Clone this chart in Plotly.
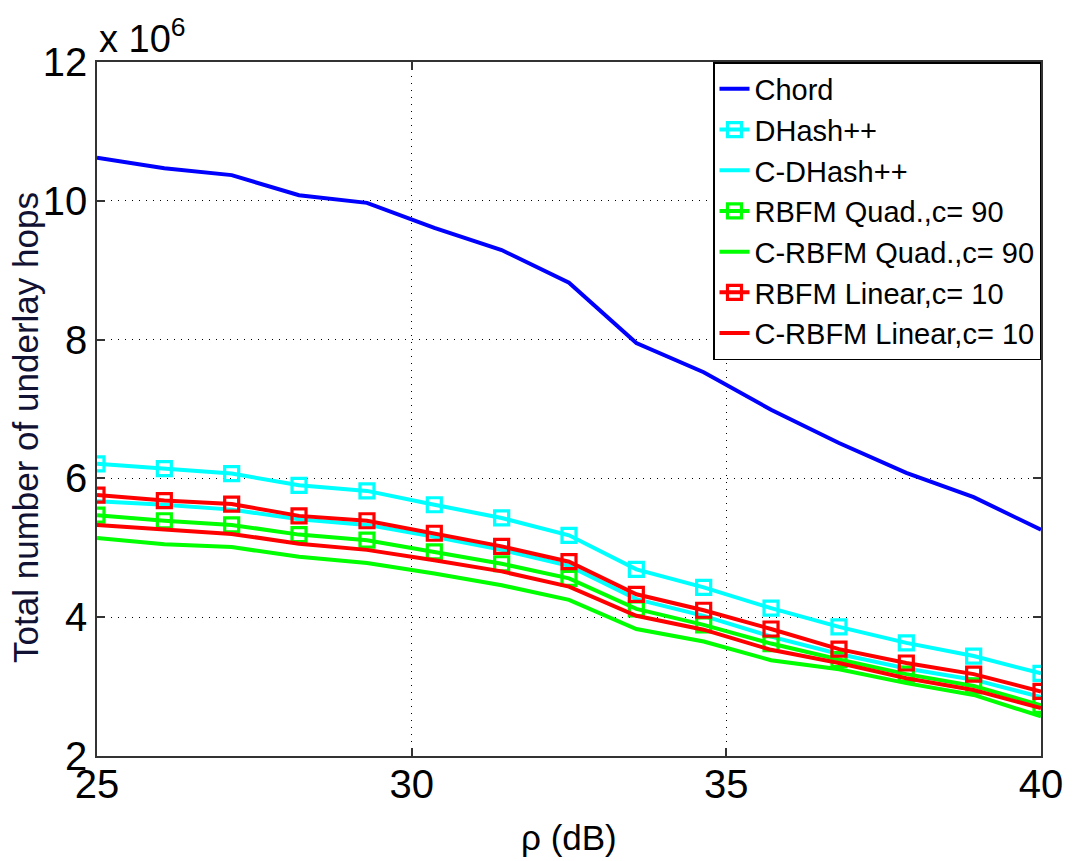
import numpy as np
import plotly.graph_objects as go

# SNR axis (dB)
rho_db = [25.0, 26.07, 27.14, 28.21, 29.29, 30.36, 31.43, 32.5,
          33.57, 34.64, 35.71, 36.79, 37.86, 38.93, 40.0]

# Total number of underlay hops, in units of 10^6
chord = [10.62, 10.47, 10.37, 10.08, 9.97, 9.61, 9.29, 8.82,
         7.95, 7.53, 6.99, 6.51, 6.08, 5.73, 5.26]
dhash = [6.21, 6.14, 6.07, 5.90, 5.82, 5.62, 5.43, 5.18,
         4.69, 4.43, 4.13, 3.86, 3.63, 3.44, 3.19]
c_dhash = [5.67, 5.62, 5.55, 5.41, 5.33, 5.16, 4.97, 4.74,
           4.26, 4.02, 3.72, 3.47, 3.26, 3.10, 2.85]
rbfm_quad = [5.47, 5.39, 5.33, 5.19, 5.11, 4.94, 4.77, 4.56,
             4.12, 3.89, 3.62, 3.39, 3.18, 3.01, 2.73]
c_rbfm_quad = [5.14, 5.05, 5.01, 4.87, 4.78, 4.63, 4.46, 4.25,
               3.83, 3.65, 3.38, 3.25, 3.05, 2.88, 2.57]
rbfm_lin = [5.76, 5.68, 5.63, 5.46, 5.39, 5.21, 5.02, 4.80,
            4.33, 4.10, 3.83, 3.54, 3.34, 3.18, 2.93]
c_rbfm_lin = [5.33, 5.27, 5.20, 5.06, 4.97, 4.82, 4.66, 4.44,
              4.02, 3.82, 3.53, 3.34, 3.12, 2.95, 2.69]

x_ticks = [25, 30, 35, 40]
y_ticks = [2, 4, 6, 8, 10, 12]

FONT = "Liberation Sans, Arial, Helvetica, sans-serif"

series = [
    ("Chord", chord, "#0000ff", False),
    ("DHash++", dhash, "#00ffff", True),
    ("C-DHash++", c_dhash, "#00ffff", False),
    ("RBFM Quad.,c= 90", rbfm_quad, "#00ff00", True),
    ("C-RBFM Quad.,c= 90", c_rbfm_quad, "#00ff00", False),
    ("RBFM Linear,c= 10", rbfm_lin, "#ff0000", True),
    ("C-RBFM Linear,c= 10", c_rbfm_lin, "#ff0000", False),
]

fig = go.Figure()
for name, vals, color, with_marker in series:
    fig.add_trace(go.Scatter(
        x=rho_db, y=vals, name=name,
        mode="lines+markers" if with_marker else "lines",
        line=dict(color=color, width=4),
        marker=dict(symbol="square-open", size=14,
                    line=dict(color=color, width=3.2)) if with_marker else None,
    ))

axis_common = dict(
    showline=True, linecolor="#333333", linewidth=1.5, mirror="allticks",
    ticks="inside", ticklen=8, tickwidth=1.5, tickcolor="#333333",
    showgrid=True, gridcolor="#000000", gridwidth=1, griddash="1px,6px",
    zeroline=False,
    tickfont=dict(family=FONT, size=40, color="#000000"),
)

fig.update_layout(
    width=1075, height=861,
    margin=dict(l=97, r=30, t=62, b=105),
    paper_bgcolor="white", plot_bgcolor="white",
    font=dict(family=FONT, color="#000000"),
    showlegend=True,
    legend=dict(
        x=1, y=1, xanchor="right", yanchor="top",
        bgcolor="white", bordercolor="#000000", borderwidth=1.5,
        font=dict(family=FONT, size=29, color="#000000"),
        tracegroupgap=0,
    ),
    xaxis=dict(range=[25, 40], tickvals=x_ticks, ticklabelstandoff=-8,
               **axis_common),
    yaxis=dict(range=[2, 12], tickvals=y_ticks, **axis_common),
)

# axis titles and exponent label
fig.add_annotation(
    text="ρ (dB)", xref="paper", yref="paper", x=0.5, y=-0.118,
    xanchor="center", yanchor="middle", showarrow=False,
    font=dict(family=FONT, size=35, color="#000000"),
)
fig.add_annotation(
    text="Total number of underlay hops", xref="paper", yref="paper",
    x=-0.075, y=0.473, xanchor="center", yanchor="middle", textangle=-90,
    showarrow=False, font=dict(family=FONT, size=35, color="#111133"),
)
fig.add_annotation(
    text="x 10<sup>6</sup>", xref="paper", yref="paper", x=0.0, y=1.0,
    xanchor="left", yanchor="bottom", showarrow=False,
    font=dict(family=FONT, size=38, color="#000000"),
)

fig.write_html("out.html")
